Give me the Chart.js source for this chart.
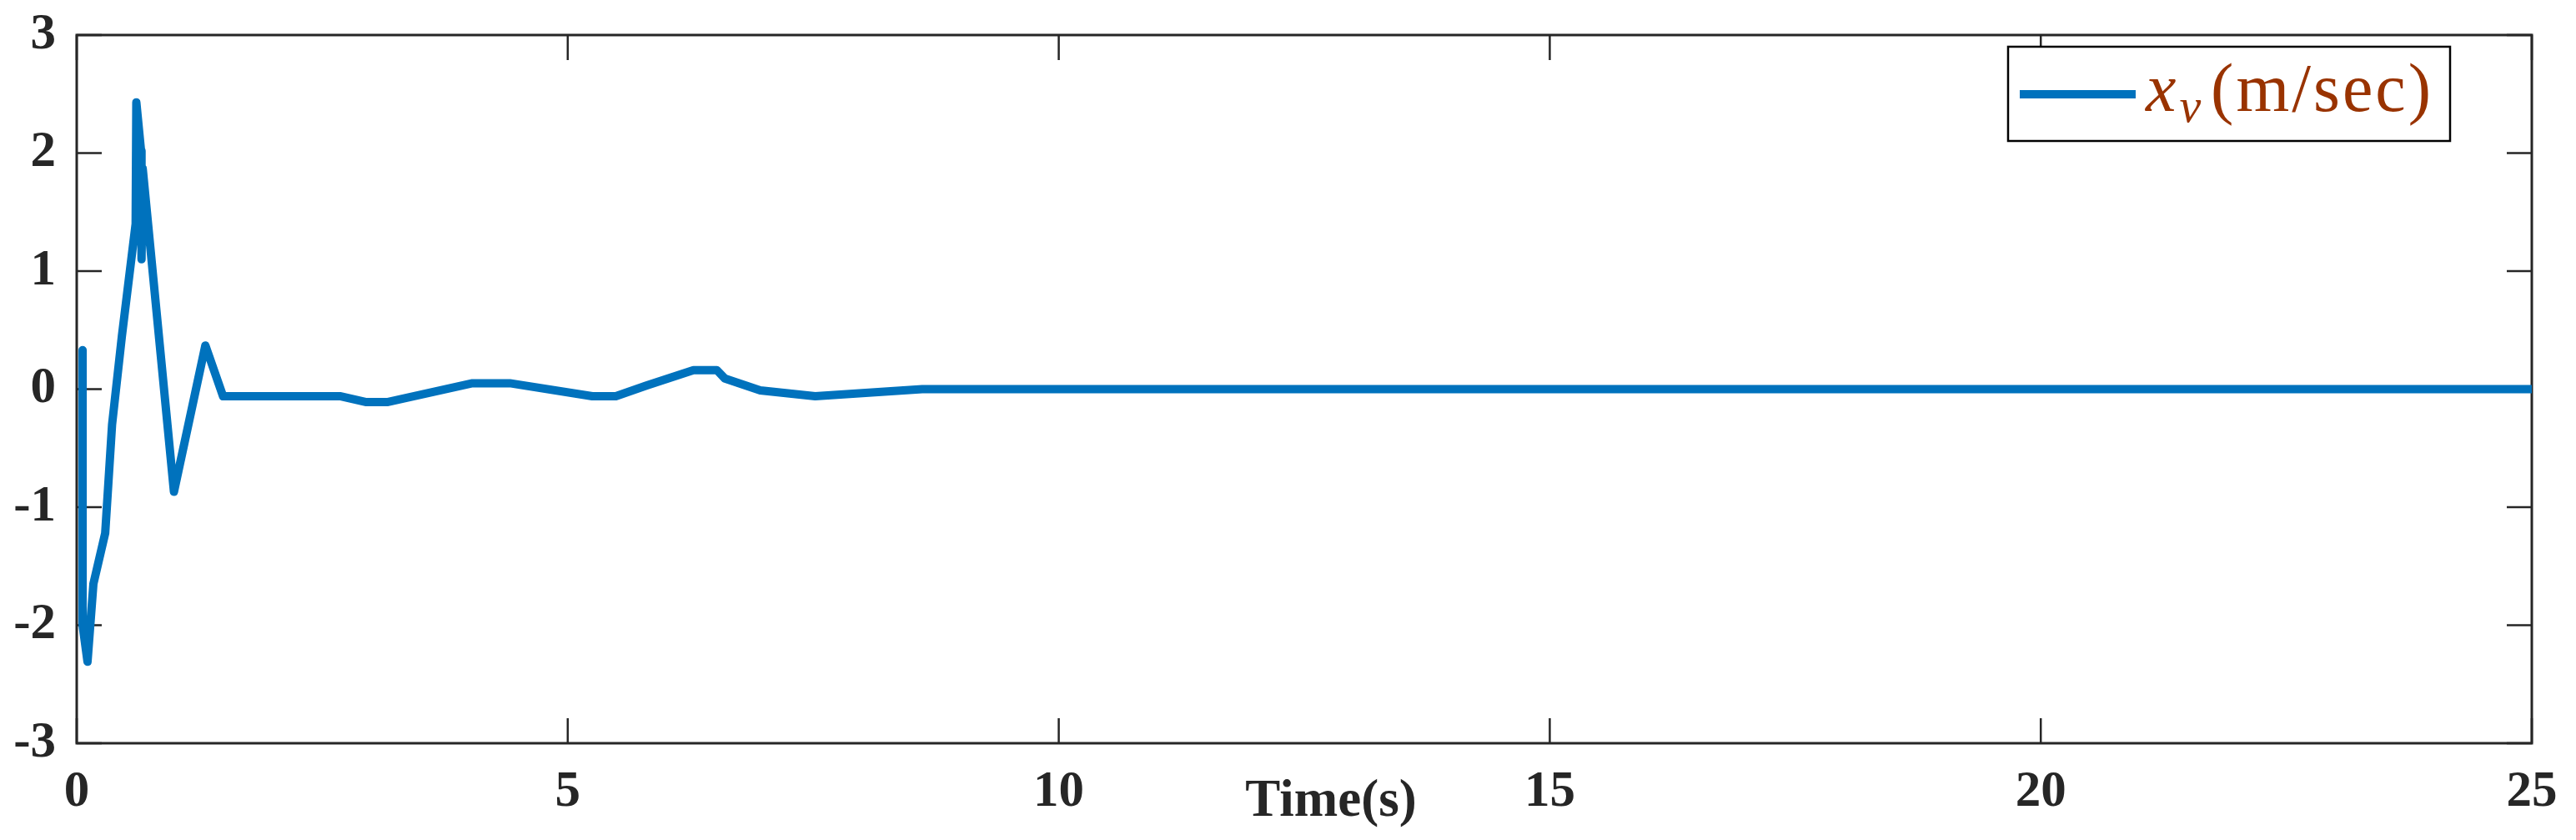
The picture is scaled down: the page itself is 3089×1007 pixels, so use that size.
<!DOCTYPE html>
<html>
<head>
<meta charset="utf-8">
<script src="https://cdn.jsdelivr.net/npm/chart.js@4/dist/chart.umd.min.js"></script>
<style>
  html, body { margin: 0; padding: 0; background: #fff; }
  #wrap { width: 3089px; height: 1007px; position: relative; }
</style>
</head>
<body>
<div id="wrap"><canvas id="chart"></canvas></div>
<script>
// ====== DATA ======
const timeS = [0.06, 0.06, 0.11, 0.17, 0.29, 0.36, 0.46, 0.600, 0.607, 0.655, 0.660, 0.672, 0.99, 1.31, 1.49,
  2.68, 2.95, 3.16, 4.03, 4.41, 5.25, 5.49, 5.80, 6.28, 6.52, 6.60, 6.96, 7.52, 8.61, 25];
const velocity = [0.33, -2.0, -2.31, -1.65, -1.22, -0.30, 0.45, 1.40, 2.43, 2.02, 1.10, 1.87, -0.87, 0.37, -0.06,
  -0.06, -0.11, -0.11, 0.05, 0.05, -0.06, -0.06, 0.03, 0.16, 0.16, 0.09, -0.01, -0.06, 0.0, 0.0];
const xTicks = [0, 5, 10, 15, 20, 25];
const yTicks = [-3, -2, -1, 0, 1, 2, 3];
const xLabel = "Time(s)";
const legendParts = ["x", "v", "(m/sec)"];   // x_v (m/sec)

// ====== STYLE ======
const AXIS = "#262626";
const BLUE = "#0072BD";
const LEGEND_TXT = "#993300";
const SERIF = '"Liberation Serif", "Times New Roman", serif';

// ====== PLUGINS ======
// box + inward ticks on all four sides (drawn under the line, like matlab)
const framePlugin = {
  id: "frame",
  beforeDatasetsDraw(chart) {
    const { ctx, chartArea: a, scales: { x, y } } = chart;
    const tl = 30;
    ctx.save();
    ctx.strokeStyle = AXIS;
    ctx.lineWidth = 2.5;
    ctx.beginPath();
    xTicks.forEach(v => {
      const px = x.getPixelForValue(v);
      ctx.moveTo(px, a.bottom); ctx.lineTo(px, a.bottom - tl);
      ctx.moveTo(px, a.top); ctx.lineTo(px, a.top + tl);
    });
    yTicks.forEach(v => {
      const py = y.getPixelForValue(v);
      ctx.moveTo(a.left, py); ctx.lineTo(a.left + tl, py);
      ctx.moveTo(a.right, py); ctx.lineTo(a.right - tl, py);
    });
    ctx.stroke();
    ctx.lineWidth = 3;
    ctx.strokeRect(a.left, a.top, a.right - a.left, a.bottom - a.top);

    // x label sits on the tick-label row, a bit right of centre
    ctx.fillStyle = AXIS;
    ctx.font = `bold 63px ${SERIF}`;
    ctx.textAlign = "center";
    ctx.textBaseline = "alphabetic";
    ctx.fillText(xLabel, (a.left + a.right) / 2 + 32, 978);
    ctx.restore();
  }
};

// legend with math-style label  x_v(m/sec)
const legendPlugin = {
  id: "texLegend",
  afterDraw(chart) {
    const { ctx, chartArea: a } = chart;
    const big = 82, small = 58;
    ctx.save();
    ctx.font = `italic ${big}px ${SERIF}`;
    const wx = ctx.measureText(legendParts[0]).width;
    ctx.font = `italic ${small}px ${SERIF}`;
    const wv = ctx.measureText(legendParts[1]).width;
    ctx.font = `${big}px ${SERIF}`;
    ctx.letterSpacing = "3px";
    const wr = ctx.measureText(legendParts[2]).width;
    ctx.letterSpacing = "0px";

    const padL = 14, lineLen = 139, gap = 12, padR = 20, h = 113;
    const w = padL + lineLen + gap + wx + 4 + wv + 12 + wr + padR;
    const right = a.right - 98, top = a.top + 14;
    const left = right - w;

    ctx.fillStyle = "#fff";
    ctx.fillRect(left, top, w, h);
    ctx.strokeStyle = "#000";
    ctx.lineWidth = 2.5;
    ctx.strokeRect(left, top, w, h);

    ctx.strokeStyle = BLUE;
    ctx.lineWidth = 10;
    ctx.beginPath();
    ctx.moveTo(left + padL, top + 57);
    ctx.lineTo(left + padL + lineLen, top + 57);
    ctx.stroke();

    const base = top + 77;
    let tx = left + padL + lineLen + gap;
    ctx.fillStyle = LEGEND_TXT;
    ctx.textBaseline = "alphabetic";
    ctx.textAlign = "left";
    ctx.font = `italic ${big}px ${SERIF}`;
    ctx.fillText(legendParts[0], tx, base);
    tx += wx + 4;
    ctx.font = `italic ${small}px ${SERIF}`;
    ctx.fillText(legendParts[1], tx, base + 13);
    tx += wv + 12;
    ctx.font = `${big}px ${SERIF}`;
    ctx.letterSpacing = "3px";
    ctx.fillText(legendParts[2], tx, base);
    ctx.restore();
  }
};

// ====== CHART ======
const points = timeS.map((t, i) => ({ x: t, y: velocity[i] }));

new Chart(document.getElementById("chart"), {
  type: "line",
  data: {
    datasets: [{
      label: "x_v(m/sec)",
      data: points,
      borderColor: BLUE,
      borderWidth: 10,
      pointRadius: 0,
      tension: 0,
      fill: false,
      borderJoinStyle: "round"
    }]
  },
  options: {
    responsive: true,
    maintainAspectRatio: false,
    animation: false,
    layout: { padding: { top: 42, right: 53, left: 0, bottom: 0 } },
    plugins: { legend: { display: false }, tooltip: { enabled: false } },
    scales: {
      x: {
        type: "linear",
        min: 0, max: 25,
        afterBuildTicks: s => { s.ticks = xTicks.map(v => ({ value: v })); },
        afterFit: s => { s.height = 116; s.paddingLeft = 0; s.paddingRight = 0; },
        grid: { display: false, drawTicks: false },
        border: { display: false },
        ticks: {
          padding: 23,
          color: AXIS,
          maxRotation: 0,
          font: { family: SERIF, size: 61, weight: "bold" }
        }
      },
      y: {
        min: -3, max: 3,
        afterBuildTicks: s => { s.ticks = yTicks.map(v => ({ value: v })); },
        afterFit: s => { s.width = 92; s.paddingTop = 0; s.paddingBottom = 0; },
        grid: { display: false, drawTicks: false },
        border: { display: false },
        ticks: {
          padding: 25,
          color: AXIS,
          font: { family: SERIF, size: 61, weight: "bold" }
        }
      }
    }
  },
  plugins: [framePlugin, legendPlugin]
});
</script>
</body>
</html>
